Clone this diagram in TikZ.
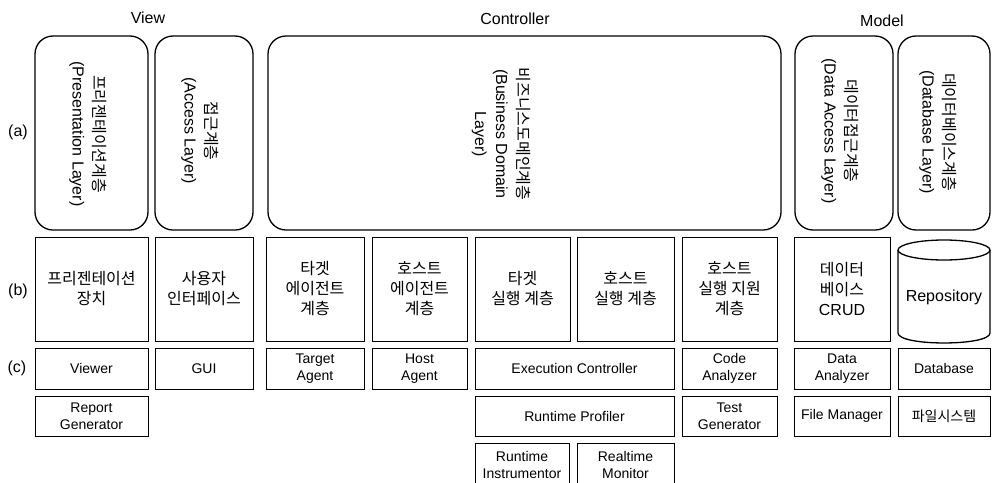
\documentclass[tikz,border=0pt]{standalone}
\usepackage{fontspec}
\setmainfont{Liberation Sans}
\newfontfamily\kr{Noto Sans CJK KR}
\begin{document}
\begin{tikzpicture}[x=1pt,y=-1pt,
  rbox/.style={draw, line width=1.3pt, rounded corners=18pt, inner sep=0pt},
  sbox/.style={draw, line width=0.9pt, inner sep=0pt, align=center, font=\fontsize{14}{17.5}\selectfont},
  kbox/.style={draw, line width=0.9pt, inner sep=0pt, align=center, font=\kr\fontsize{16}{20}\selectfont},
  vtext/.style={rotate=-90, align=center, inner sep=0pt, font=\fontsize{16}{21}\selectfont},
  ttl/.style={font=\fontsize{16}{19}\selectfont},
  lab/.style={font=\fontsize{16}{19}\selectfont}]
\useasboundingbox (0,0) rectangle (992,482);
\clip (0,0) rectangle (992,482);

% titles and row labels
\node[ttl] (tview) at (148,18) {View};
\node[ttl] (tctrl) at (515,19) {Controller};
\node[ttl] (tmodel) at (882,21) {Model};
\node[lab] (la) at (18,132) {(a)};
\node[lab] (lb) at (18,291) {(b)};
\node[lab] (lc) at (17,368) {(c)};

% row (a)
\node[rbox, minimum width=113pt, minimum height=194pt] (A1) at (91.5,133) {};
\node[rbox, minimum width=98pt, minimum height=194pt] (A2) at (204,133) {};
\node[rbox, minimum width=513pt, minimum height=194pt] (A3) at (524.5,133) {};
\node[rbox, minimum width=98pt, minimum height=194pt] (A4) at (844,133) {};
\node[rbox, minimum width=92pt, minimum height=194pt] (A5) at (944,133) {};
\node[vtext] (A1t) at (88,134) {{\kr 프리젠테이션계층}\\(Presentation Layer)};
\node[vtext] (A2t) at (200,131) {{\kr 접근계층}\\(Access Layer)};
\node[vtext] (A3t) at (501,134) {{\kr 비즈니스도메인계층}\\(Business Domain\\Layer)};
\node[vtext] (A4t) at (840,131) {{\kr 데이터접근계층}\\(Data Access Layer)};
\node[vtext] (A5t) at (938,132) {{\kr 데이터베이스계층}\\(Database Layer)};

% row (b)
\node[kbox, minimum width=113pt, minimum height=104pt] (b1) at (91.5,289) {프리젠테이션\\장치};
\node[kbox, minimum width=98pt, minimum height=104pt] (b2) at (204,289) {사용자\\인터페이스};
\node[kbox, minimum width=98pt, minimum height=104pt] (b3) at (315,289) {타겟\\에이전트\\계층};
\node[kbox, minimum width=95pt, minimum height=104pt] (b4) at (419.5,289) {호스트\\에이전트\\계층};
\node[kbox, minimum width=95pt, minimum height=104pt] (b5) at (522.5,289) {타겟\\실행 계층};
\node[kbox, minimum width=97pt, minimum height=104pt] (b6) at (625.5,289) {호스트\\실행 계층};
\node[kbox, minimum width=95pt, minimum height=104pt] (b7) at (729.5,289) {호스트\\실행 지원\\계층};
\node[kbox, minimum width=96pt, minimum height=104pt] (b8) at (842,289) {데이터\\베이스\\{\rmfamily CRUD}};
% cylinder
\draw[line width=1.3pt] (898,250) -- (898,333) .. controls (898,346.3) and (990,346.3) .. (990,333) -- (990,250);
\draw[line width=1.3pt] (944,250) ellipse [x radius=46, y radius=10];
\node[font=\fontsize{16}{19}\selectfont] (b9) at (944,297) {Repository};

% row (c)
\node[sbox, minimum width=113pt, minimum height=41pt] (c1) at (91.5,368.5) {Viewer};
\node[sbox, minimum width=98pt, minimum height=41pt] (c2) at (204,368.5) {GUI};
\node[sbox, minimum width=98pt, minimum height=41pt] (c3) at (315,368.5) {Target\\Agent};
\node[sbox, minimum width=95pt, minimum height=41pt] (c4) at (419.5,368.5) {Host\\Agent};
\node[sbox, minimum width=199pt, minimum height=41pt] (c5) at (574.5,368.5) {Execution Controller};
\node[sbox, minimum width=95pt, minimum height=41pt] (c7) at (729.5,368.5) {Code\\Analyzer};
\node[sbox, minimum width=96pt, minimum height=41pt] (c8) at (842,368.5) {Data\\Analyzer};
\node[sbox, minimum width=92pt, minimum height=41pt] (c9) at (944,368.5) {Database};

% row (d)
\node[sbox, minimum width=113pt, minimum height=40pt] (d1) at (91.5,416) {Report\\Generator};
\node[sbox, minimum width=199pt, minimum height=40pt] (d5) at (574.5,416) {Runtime Profiler};
\node[sbox, minimum width=95pt, minimum height=40pt] (d7) at (729.5,416) {Test\\Generator};
\node[sbox, minimum width=96pt, minimum height=40pt] (d8) at (842,416) {File Manager};
\node[sbox, minimum width=92pt, minimum height=40pt, font=\kr\fontsize{14}{17}\selectfont] (d9) at (944,416) {파일시스템};

% row (e)
\node[sbox, minimum width=94pt, minimum height=44pt] (e1) at (522,465) {Runtime\\Instrumentor};
\node[sbox, minimum width=97pt, minimum height=44pt] (e2) at (625.5,465) {Realtime\\Monitor};
\end{tikzpicture}
\end{document}
